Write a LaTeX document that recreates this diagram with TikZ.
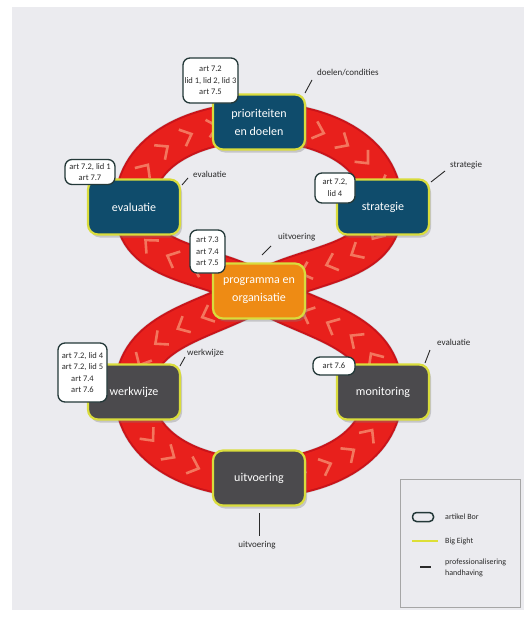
\documentclass[tikz,border=0pt]{standalone}
\usepackage{fontspec}
\setmainfont{Carlito}
\usetikzlibrary{decorations.markings,shadows}
\definecolor{bg}{HTML}{EBEBEF}
\definecolor{bandred}{HTML}{E8201C}
\definecolor{banddark}{HTML}{C9141A}
\definecolor{chevcol}{HTML}{F3765E}
\definecolor{boxblue}{HTML}{0F4C6C}
\definecolor{boxorange}{HTML}{EE8B14}
\definecolor{boxgray}{HTML}{4B4A4D}
\definecolor{bigeight}{HTML}{D9DC3C}
\definecolor{labelborder}{HTML}{233838}
\definecolor{txt}{HTML}{2A2A2A}
\begin{document}
\begin{tikzpicture}[x=1pt,y=-1pt,
  phase/.style={draw=bigeight, line width=2.2pt, rounded corners=10pt,
    minimum width=92pt, minimum height=55pt, align=center, text=white,
    font=\fontsize{12}{18}\selectfont,
    drop shadow={shadow xshift=2pt,shadow yshift=-3pt,opacity=0.35}},
  bluephase/.style={phase, fill=boxblue},
  orangephase/.style={phase, fill=boxorange},
  grayphase/.style={phase, fill=boxgray},
  artbox/.style={draw=labelborder, fill=white, line width=1.3pt, rounded corners=7pt,
    align=center, text=txt, font=\fontsize{8.5}{11.5}\selectfont, inner sep=1.5pt},
  tag/.style={text=txt, font=\fontsize{9}{11}\selectfont, inner sep=0pt},
  tick/.style={draw=txt, line width=0.9pt},
  chev/.style={draw=chevcol, line width=2.6pt, line join=miter},
  bandedge/.style={line width=40pt, draw=banddark},
  band/.style={line width=36pt, draw=bandred},
]
\useasboundingbox (0,0) rectangle (524,618);
\fill[white] (0,0) rectangle (524,618);
\fill[bg] (12,7) rectangle (524,610);

% centres
\coordinate (cC) at (259,291);
\coordinate (cE) at (134,207);
\coordinate (cP) at (259,122);
\coordinate (cS) at (383,207);
\coordinate (cW) at (134,392);
\coordinate (cU) at (259,478);
\coordinate (cM) at (383,392);

% shadow of the band
\draw[line width=41pt, black, opacity=0.12, shift={(2pt,-3pt)}]
  (cC) to[out=150,in=270] (cE) to[out=90,in=180] (cP) to[out=0,in=90] (cS)
  to[out=270,in=30] (cC) to[out=210,in=90] (cW) to[out=270,in=180] (cU)
  to[out=0,in=270] (cM) to[out=90,in=-30] (cC);
% band edge
\draw[bandedge]
  (cC) to[out=150,in=270] (cE) to[out=90,in=180] (cP) to[out=0,in=90] (cS)
  to[out=270,in=30] (cC) to[out=210,in=90] (cW) to[out=270,in=180] (cU)
  to[out=0,in=270] (cM) to[out=90,in=-30] (cC);
% band
\draw[band, postaction={decorate, decoration={markings,
    mark=between positions 0.01 and 1 step 27pt with
    {\draw[chev] (-6pt,9pt) -- (4pt,0pt) -- (-6pt,-9pt);}}}]
  (cC) to[out=150,in=270] (cE) to[out=90,in=180] (cP) to[out=0,in=90] (cS)
  to[out=270,in=30] (cC) to[out=210,in=90] (cW) to[out=270,in=180] (cU)
  to[out=0,in=270] (cM) to[out=90,in=-30] (cC);

% phases
\node[bluephase] (prio) at (cP) {prioriteiten\\en doelen};
\node[bluephase] (eval) at (cE) {evaluatie};
\node[bluephase] (strat) at (cS) {strategie};
\node[orangephase] (prog) at (cC) {programma en\\organisatie};
\node[grayphase] (werk) at (cW) {werkwijze};
\node[grayphase] (mon) at (cM) {monitoring};
\node[grayphase] (uit) at (cU) {uitvoering};

% artikel Bor labels
\node[artbox, minimum width=55pt, minimum height=45pt] (a1) at (210.5,80.5) {art 7.2\\lid 1, lid 2, lid 3\\art 7.5};
\node[artbox, minimum width=50pt, minimum height=25pt] (a2) at (90,172) {art 7.2, lid 1\\art 7.7};
\node[artbox, minimum width=40pt, minimum height=30pt] (a3) at (335,188) {art 7.2,\\lid 4};
\node[artbox, minimum width=35pt, minimum height=43pt] (a4) at (207.5,251.5) {art 7.3\\art 7.4\\art 7.5};
\node[artbox, minimum width=49pt, minimum height=59pt] (a5) at (82.5,372.5) {art 7.2, lid 4\\art 7.2, lid 5\\art 7.4\\art 7.6};
\node[artbox, minimum width=42pt, minimum height=18pt] (a6) at (334,366) {art 7.6};

% professionalisering tags
\node[tag, anchor=west] (t1) at (317,73) {doelen/condities};
\coordinate (t1a) at (312,80); \coordinate (t1b) at (305,93);
\draw[tick] (t1a) -- (t1b);
\node[tag, anchor=west] (t2) at (193,174) {evaluatie};
\coordinate (t2a) at (188,178); \coordinate (t2b) at (182,185);
\draw[tick] (t2a) -- (t2b);
\node[tag, anchor=west] (t3) at (450,165) {strategie};
\coordinate (t3a) at (445,171); \coordinate (t3b) at (431,182);
\draw[tick] (t3a) -- (t3b);
\node[tag, anchor=west] (t4) at (278,237) {uitvoering};
\coordinate (t4a) at (271,246); \coordinate (t4b) at (262,255);
\draw[tick] (t4a) -- (t4b);
\node[tag, anchor=west] (t5) at (187,353) {werkwijze};
\coordinate (t5a) at (185,357); \coordinate (t5b) at (180,366);
\draw[tick] (t5a) -- (t5b);
\node[tag, anchor=west] (t6) at (437,342) {evaluatie};
\coordinate (t6a) at (430,350); \coordinate (t6b) at (425,363);
\draw[tick] (t6a) -- (t6b);
\node[tag] (t7) at (257,545) {uitvoering};
\coordinate (t7a) at (259,513); \coordinate (t7b) at (259,536);
\draw[tick] (t7a) -- (t7b);

% legend
\node[draw=black!35, fill=bg, line width=0.8pt, minimum width=120pt, minimum height=128pt, inner sep=0pt] (legend) at (460,543) {};
\node[draw=labelborder, line width=1.5pt, rounded corners=4pt, minimum width=21pt, minimum height=9pt, inner sep=0pt] (lsym) at (423,517) {};
\node[tag, anchor=west, font=\fontsize{8}{10}\selectfont] (l1) at (445,517) {artikel Bor};
\coordinate (lya) at (412,541); \coordinate (lyb) at (438,541);
\draw[draw=bigeight!90!yellow, line width=2pt] (lya) -- (lyb);
\node[tag, anchor=west, font=\fontsize{8}{10}\selectfont] (l2) at (445,541) {Big Eight};
\coordinate (lga) at (420,567); \coordinate (lgb) at (431,567);
\draw[tick, line width=1.8pt] (lga) -- (lgb);
\node[tag, anchor=west, align=left, font=\fontsize{8}{11}\selectfont] (l3) at (445,568) {professionalisering\\handhaving};
\end{tikzpicture}
\end{document}
